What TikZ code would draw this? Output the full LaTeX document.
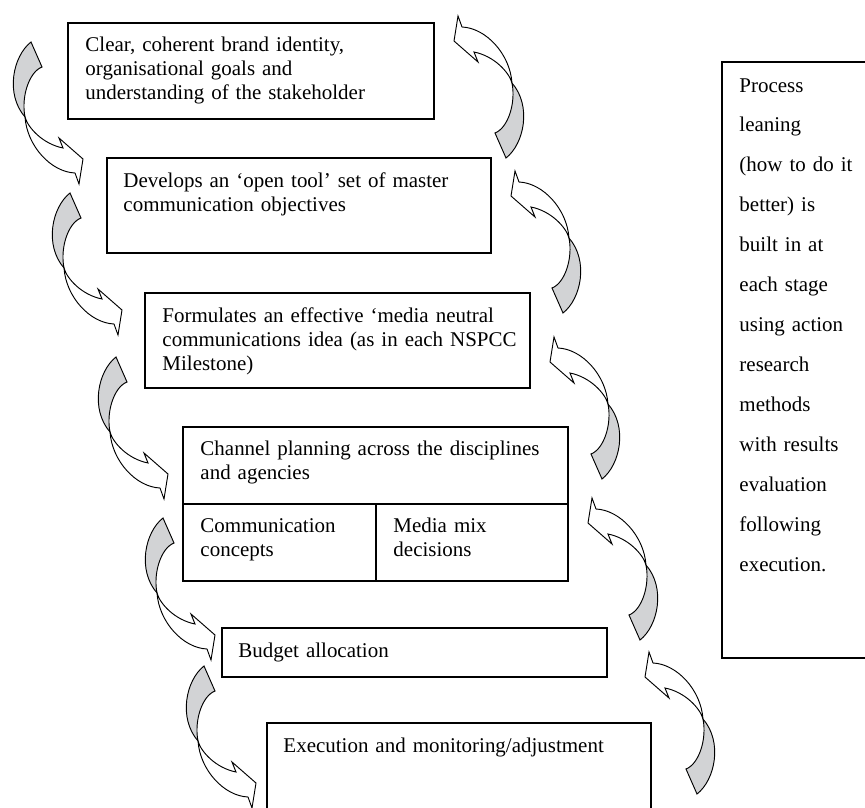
\documentclass[tikz,border=0pt]{standalone}
\usepackage{fontspec}
\setmainfont{Liberation Serif}
\definecolor{bandgray}{RGB}{210,211,213}
\newcommand{\boxfont}{\fontsize{17.9}{20.9}\selectfont}
\tikzset{
	bandarrow/.pic={
		\draw[fill=bandgray] (0,0) .. controls (-18,14) and (-26,52) .. (-6,75)
			.. controls (-10,55) and (-2,30) .. (11,25) -- cycle;
		\draw[fill=white] (-6,75) .. controls (-3,86) and (12,102) .. (32,106)
			-- (28,96) -- (52,117) -- (48,142) -- (44,131)
			.. controls (20,130) and (-4,104) .. (-6,75) -- cycle;
	}
}

\begin{document}
\begin{tikzpicture}[x=0.03cm, y=-0.03cm, line width=0.8pt]
	\tikzset{stage/.style = {draw, line width=1pt},
		lbl/.style = {anchor=base west, inner sep=0pt, text width=11cm,
			align=left, font=\boxfont}}
	\useasboundingbox (0,0) rectangle (865,807);
	\clip (0,0) rectangle (865,807);
	% stages
	\draw[stage] (68,23) rectangle (434,119);
	\draw[stage] (107,158) rectangle (491,253);
	\draw[stage] (145,293) rectangle (530,388);
	\draw[stage] (183,427) rectangle (568,581);
	\draw[stage] (183,504) -- (568,504) (376,504) -- (376,581);
	\draw[stage] (222,628) rectangle (607,677);
	\draw[stage] (267,723) rectangle (651,830);
	\draw[stage] (722,62) rectangle (880,658);
	\node[lbl] (clear) at (85,51) {Clear, coherent brand identity,\\
		organisational goals and\\ understanding of the stakeholder};
	\node[lbl] (develop) at (123,187) {Develops an ‘open tool’ set of master\\
		communication objectives};
	\node[lbl] (idea) at (162,322) {Formulates an effective ‘media neutral\\
		communications idea (as in each NSPCC\\ Milestone)};
	\node[lbl] (channel) at (200,455) {Channel planning across the disciplines\\
		and agencies};
	\node[lbl] (concepts) at (200,532) {Communication\\ concepts};
	\node[lbl] (mix) at (393,532) {Media mix\\ decisions};
	\node[lbl] (budget) at (238,657) {Budget allocation};
	\node[lbl] (execution) at (283,752) {Execution and monitoring/adjustment};
	\node[lbl, font=\fontsize{17.9}{34.1}\selectfont] (learning) at (739,92)
		{Process\\ leaning\\ (how to do it\\ better) is\\ built in at\\
		each stage\\ using action\\ research\\ methods\\ with results\\
		evaluation\\ following\\ execution.};
	% curved arrows
	\foreach \x/\y in {31/42, 70/193, 116/357, 163/518, 204/666}
		\pic at (\x,\y) {bandarrow};
	\foreach \x/\y in {506/158, 563/313, 602/479, 640/640, 697/794}
		\pic[rotate=180] at (\x,\y) {bandarrow};
\end{tikzpicture}
\end{document}
